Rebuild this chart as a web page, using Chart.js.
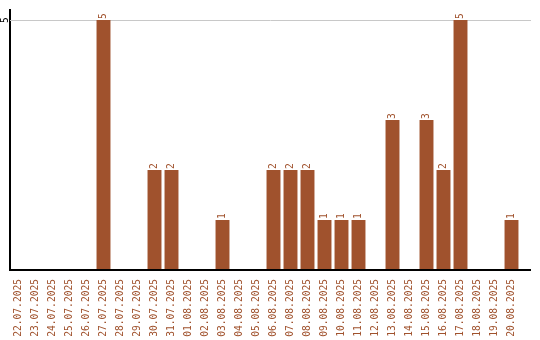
<!DOCTYPE html>
<html>
<head>
<meta charset="utf-8">
<script src="https://cdn.jsdelivr.net/npm/chart.js@4"></script>
<style>
  html, body { margin: 0; padding: 0; background: #fff; }
  #wrap { width: 540px; height: 340px; }
</style>
</head>
<body>
<div id="wrap"><canvas id="chart" width="540" height="340"></canvas></div>
<script>
const dates = [
  "22.07.2025", "23.07.2025", "24.07.2025", "25.07.2025", "26.07.2025",
  "27.07.2025", "28.07.2025", "29.07.2025", "30.07.2025", "31.07.2025",
  "01.08.2025", "02.08.2025", "03.08.2025", "04.08.2025", "05.08.2025",
  "06.08.2025", "07.08.2025", "08.08.2025", "09.08.2025", "10.08.2025",
  "11.08.2025", "12.08.2025", "13.08.2025", "14.08.2025", "15.08.2025",
  "16.08.2025", "17.08.2025", "18.08.2025", "19.08.2025", "20.08.2025"
];
const counts = [0, 0, 0, 0, 0, 5, 0, 0, 2, 2, 0, 0, 1, 0, 0, 2, 2, 2, 1, 1, 1, 0, 3, 0, 3, 2, 5, 0, 0, 1];
const yTicks = [5];

const brown = "#a0522d";
const monoFont = { family: "'DejaVu Sans Mono', monospace", size: 9.6 };

// value labels above the bars, rotated like the axis labels
const barValues = {
  id: "barValues",
  afterDatasetsDraw(chart) {
    const c = chart.ctx;
    const meta = chart.getDatasetMeta(0);
    c.save();
    c.font = "9.6px 'DejaVu Sans Mono', monospace";
    c.fillStyle = brown;
    c.textAlign = "left";
    c.textBaseline = "middle";
    meta.data.forEach((bar, i) => {
      if (!counts[i]) return;
      c.save();
      c.translate(bar.x, bar.y - 1);
      c.rotate(-Math.PI / 2);
      c.fillText(String(counts[i]), 0, 0);
      c.restore();
    });
    c.restore();
  }
};

// gridline + baseline run a bit past the last category, plus the y tick label
const axisExtras = {
  id: "axisExtras",
  beforeDatasetsDraw(chart) {
    const c = chart.ctx;
    const a = chart.chartArea;
    const y = chart.scales.y;
    c.save();
    c.strokeStyle = "#c8c8c8";
    c.lineWidth = 1;
    yTicks.forEach(v => {
      const py = Math.round(y.getPixelForValue(v)) + 0.5;
      c.beginPath();
      c.moveTo(a.left, py);
      c.lineTo(chart.width - 9, py);
      c.stroke();
    });
    c.restore();
  },
  afterDraw(chart) {
    const c = chart.ctx;
    const a = chart.chartArea;
    const y = chart.scales.y;
    c.save();
    c.strokeStyle = "#000";
    c.lineWidth = 2;
    c.beginPath();
    c.moveTo(a.left, a.bottom);
    c.lineTo(chart.width - 9, a.bottom);
    c.stroke();
    c.font = "9.6px 'DejaVu Sans Mono', monospace";
    c.fillStyle = "#000";
    c.textAlign = "center";
    c.textBaseline = "alphabetic";
    yTicks.forEach(v => {
      c.save();
      c.translate(a.left - 2, y.getPixelForValue(v));
      c.rotate(-Math.PI / 2);
      c.fillText(String(v), 0, 0);
      c.restore();
    });
    c.restore();
  }
};

new Chart(document.getElementById("chart"), {
  type: "bar",
  data: {
    labels: dates,
    datasets: [{
      data: counts,
      backgroundColor: brown,
      borderWidth: 0,
      barPercentage: 0.82,
      categoryPercentage: 1
    }]
  },
  options: {
    responsive: false,
    animation: false,
    layout: { padding: { top: 10, right: 20, left: 0, bottom: 0 } },
    plugins: { legend: { display: false }, tooltip: { enabled: false } },
    scales: {
      x: {
        grid: { display: false },
        border: { display: false },
        ticks: {
          color: brown,
          font: monoFont,
          minRotation: 90,
          maxRotation: 90,
          padding: 1,
          autoSkip: false
        },
        afterFit(scale) { scale.height = 70; }
      },
      y: {
        min: 0,
        max: 5.2,
        border: { display: true, color: "#000", width: 2 },
        grid: { display: false },
        ticks: { display: false },
        afterFit(scale) { scale.width = 10; }
      }
    }
  },
  plugins: [barValues, axisExtras]
});
</script>
</body>
</html>
